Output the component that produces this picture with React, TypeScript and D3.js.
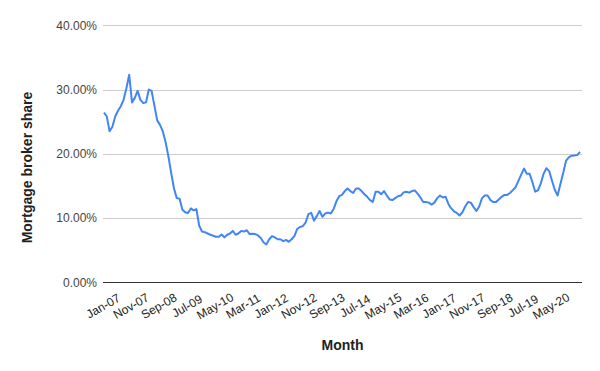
import React from 'react';
import * as d3 from 'd3';

// Monthly broker share (%), Jan-07 onward
const brokerShare: number[] = [
  26.4, 25.8, 23.5, 24.2, 25.8, 26.7, 27.4, 28.4, 30.2, 32.3,
  28.0, 28.7, 29.8, 28.4, 27.9, 28.0, 30.0, 29.8, 27.5, 25.2,
  24.5, 23.5, 21.8, 19.6, 17.0, 14.6, 13.1, 13.0, 11.3, 10.9,
  10.8, 11.5, 11.2, 11.4, 8.8, 7.9, 7.8, 7.6, 7.4, 7.25,
  7.1, 7.1, 7.45, 7.0, 7.4, 7.6, 8.0, 7.4, 7.6, 8.0,
  7.9, 8.1, 7.5, 7.55, 7.5, 7.3, 6.9, 6.2, 5.9, 6.7,
  7.2, 7.0, 6.7, 6.7, 6.4, 6.6, 6.3, 6.7, 7.2, 8.3,
  8.6, 8.75, 9.3, 10.6, 10.8, 9.6, 10.3, 11.1, 10.2, 10.7,
  10.85, 10.7, 11.4, 12.6, 13.4, 13.6, 14.2, 14.6, 14.2, 13.9,
  14.6, 14.6, 14.2, 13.7, 13.3, 12.8, 12.5, 14.1, 14.1, 13.7,
  14.2, 13.5, 12.9, 12.8, 13.1, 13.4, 13.5, 14.0, 14.1, 13.95,
  14.2, 14.3, 13.8, 13.2, 12.5, 12.5, 12.4, 12.1, 12.4, 13.1,
  13.5, 13.2, 13.3, 12.2, 11.5, 11.05, 10.8, 10.4, 10.9, 11.8,
  12.5, 12.4, 11.7, 11.1, 11.8, 13.1, 13.5, 13.5, 12.8, 12.5,
  12.5, 12.9, 13.3, 13.6, 13.6, 13.9, 14.35, 14.8, 15.8, 16.75,
  17.7, 16.9, 16.9, 15.6, 14.1, 14.3, 15.4, 16.9, 17.75, 17.3,
  15.8, 14.4, 13.5, 15.3, 17.0, 18.9, 19.45, 19.7, 19.75, 19.8,
  20.3,
];

const xTickLabels: string[] = [
  'Jan-07', 'Nov-07', 'Sep-08', 'Jul-09', 'May-10', 'Mar-11', 'Jan-12', 'Nov-12', 'Sep-13',
  'Jul-14', 'May-15', 'Mar-16', 'Jan-17', 'Nov-17', 'Sep-18', 'Jul-19', 'May-20',
];
const yTicks: number[] = [0, 10, 20, 30, 40];

const width = 600;
const height = 371;
const font = '"Liberation Sans", Arial, sans-serif';

const App = () => {
  const x = d3.scaleLinear().domain([0, brokerShare.length - 1]).range([104, 580]);
  const y = d3.scaleLinear().domain([0, 40]).range([282.3, 25.3]);
  const plotLeft = 103;
  const plotRight = 582;

  const line = d3.line<number>()
    .x((_, i) => x(i))
    .y(d => y(d));

  return (
    <svg
      width={width}
      height={height}
      style={{ position: 'absolute', left: 0, top: 0, background: '#fff', fontFamily: font }}
    >
      {/* grid lines */}
      {yTicks.map(t => (
        <g key={t}>
          <line
            x1={plotLeft}
            x2={plotRight}
            y1={Math.round(y(t)) + 0.5}
            y2={Math.round(y(t)) + 0.5}
            stroke={t === 0 ? '#333' : '#ccc'}
            strokeWidth={1}
          />
          <text x={97} y={y(t)} dy="0.35em" textAnchor="end" fontSize={12} fill="#444">
            {t.toFixed(2)}%
          </text>
        </g>
      ))}

      {/* x tick labels, slanted */}
      {xTickLabels.map((lab, k) => {
        const tx = x(k * 10) - 1;
        const ty = 306;
        return (
          <text
            key={lab}
            x={tx}
            y={ty}
            dy="0.35em"
            textAnchor="middle"
            fontSize={12}
            fill="#222"
            transform={`rotate(-30, ${tx}, ${ty})`}
          >
            {lab}
          </text>
        );
      })}

      {/* series */}
      <path d={line(brokerShare) ?? ''} fill="none" stroke="#4285f4" strokeWidth={2} strokeLinejoin="round" />

      {/* axis titles */}
      <text x={(plotLeft + plotRight) / 2} y={350} textAnchor="middle" fontSize={14} fontWeight="bold" fill="#222">
        Month
      </text>
      <text
        x={0}
        y={0}
        textAnchor="middle"
        fontSize={14}
        fontWeight="bold"
        fill="#222"
        transform={`translate(32, ${167.5}) rotate(-90)`}
      >
        Mortgage broker share
      </text>
    </svg>
  );
};

export default App;
